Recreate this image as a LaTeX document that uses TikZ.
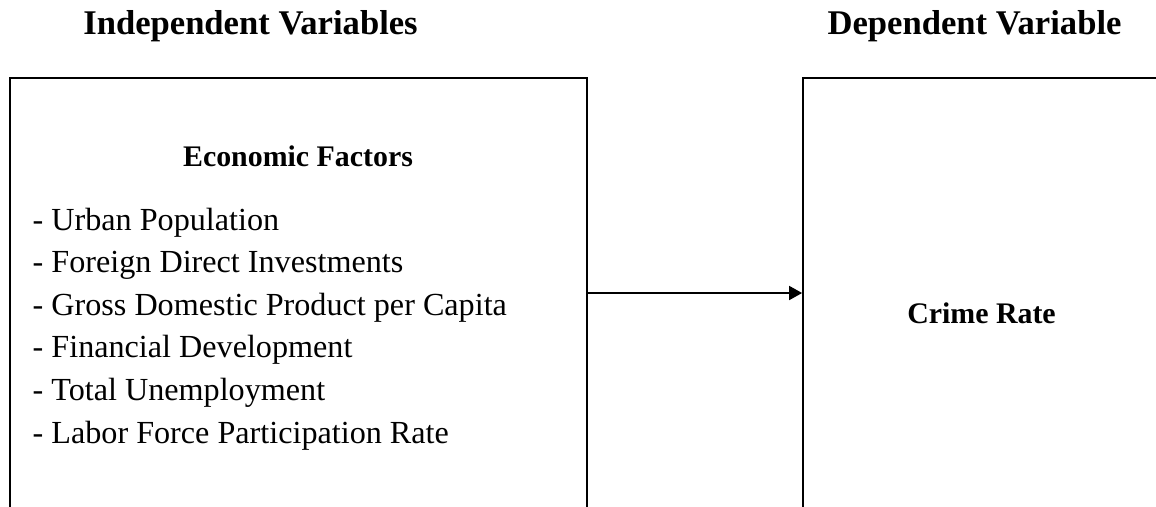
\documentclass[tikz,border=0pt]{standalone}
\usepackage{fontspec}
\setmainfont{Liberation Serif}
\usepackage{tikz}
\usetikzlibrary{positioning, arrows.meta}

\begin{document}
\begin{tikzpicture}[thick,
                    every node/.style={inner sep=0pt},
                    varbox/.style={draw, line width=1pt, minimum height=8.6cm},
                    heading/.style={font=\fontsize{19.7}{22}\selectfont\bfseries},
                    boxtitle/.style={font=\fontsize{17}{20}\selectfont\bfseries},
                    itemtext/.style={font=\fontsize{18.3}{22}\selectfont, anchor=base west}]

    % Frame (the boxes run past the bottom and right edge)
    \useasboundingbox (0,0) rectangle (23.12,-10.12);
    \clip (0,0) rectangle (23.12,-10.12);

    % Headings
    \node[heading, anchor=base] (Hind) at (5.01,-0.68) {Independent Variables};
    \node[heading, anchor=base] (Hdep) at (19.49,-0.68) {Dependent Variable};

    % Boxes
    \node[varbox, minimum width=11.54cm] (Lbox) at (5.97,-5.86) {};
    \node[varbox, minimum width=7.14cm] (Rbox) at (19.63,-5.86) {};

    % Box contents
    \node[boxtitle, anchor=base] (Econ) at (5.96,-3.32) {Economic Factors};
    \foreach \txt [count=\i] in {Urban Population, Foreign Direct Investments,
        Gross Domestic Product per Capita, Financial Development,
        Total Unemployment, Labor Force Participation Rate}
        \node[itemtext] (Item\i) at (0.64,{-4.60-0.852*(\i-1)}) {- \txt};
    \node[boxtitle, anchor=base] (Crime) at (19.63,-6.46) {Crime Rate};

    % Edge
    \draw[-{Triangle[length=2.6mm, width=2.8mm]}, line width=1pt] (Lbox.east) -- (Rbox.west);

\end{tikzpicture}
\end{document}
